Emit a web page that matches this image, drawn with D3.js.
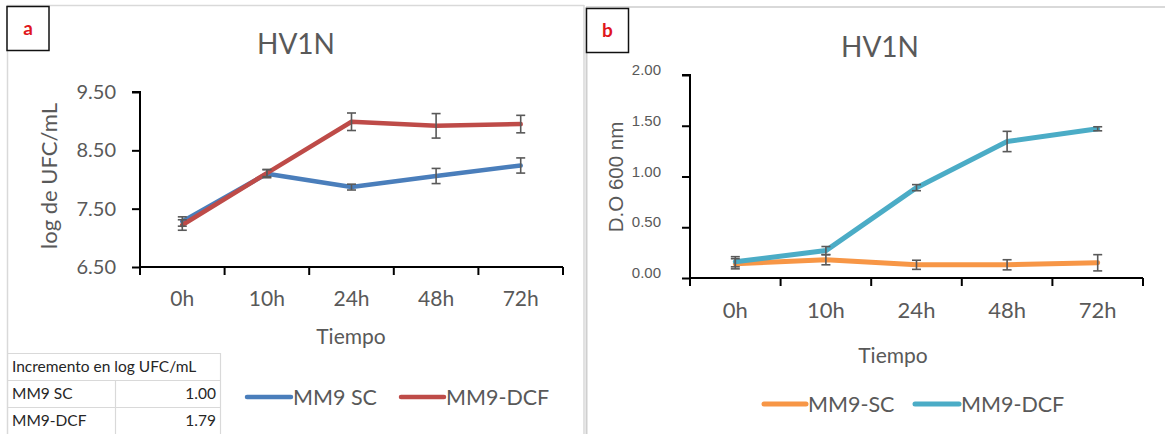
<!DOCTYPE html>
<html><head><meta charset="utf-8">
<script src="https://cdn.jsdelivr.net/npm/d3@7"></script>
<style>body{margin:0;background:#fff}svg{display:block}</style>
</head><body>
<svg id="c" width="1165" height="434"></svg>
<script>
const categories = ["0h","10h","24h","48h","72h"];
// Panel a: log UFC/mL
const aSC  = [7.28, 8.10, 7.87, 8.06, 8.24];
const aSCerr = [0.08, 0.07, 0.05, 0.13, 0.13];
const aDCF = [7.22, 8.11, 8.99, 8.92, 8.95];
const aDCFerr = [0.09, 0.06, 0.15, 0.21, 0.15];
const aTicks = [6.5, 7.5, 8.5, 9.5];
// Panel b: D.O 600 nm
const bSC  = [0.14, 0.18, 0.13, 0.13, 0.15];
const bSCerr = [0.05, 0.05, 0.045, 0.05, 0.08];
const bDCF = [0.16, 0.27, 0.89, 1.345, 1.47];
const bDCFerr = [0.05, 0.04, 0.03, 0.10, 0.02];
const bTicks = [0, 0.5, 1.0, 1.5, 2.0];
// Table
const tableHeader = "Incremento en log UFC/mL";
const tableNames = ["MM9 SC","MM9-DCF"];
const tableValues = [1.00, 1.79];

const svg = d3.select("#c");
const GRAY = "#595959";
const BORDER = "#d9d9d9";

// panel borders
svg.append("line").attr("x1",7).attr("x2",584).attr("y1",5.5).attr("y2",5.5).attr("stroke",BORDER).attr("stroke-width",1.5);
svg.append("line").attr("x1",7.5).attr("x2",7.5).attr("y1",5).attr("y2",434).attr("stroke",BORDER).attr("stroke-width",1.5);
svg.append("line").attr("x1",584).attr("x2",584).attr("y1",5).attr("y2",434).attr("stroke",BORDER).attr("stroke-width",1.5);
svg.append("line").attr("x1",586).attr("x2",1165).attr("y1",7).attr("y2",7).attr("stroke",BORDER).attr("stroke-width",2);
svg.append("line").attr("x1",586.5).attr("x2",586.5).attr("y1",7).attr("y2",434).attr("stroke","#cfcfcf").attr("stroke-width",2);

function labelBox(x,y,t){
  svg.append("rect").attr("x",x).attr("y",y).attr("width",42).attr("height",44)
    .attr("fill","#fff").attr("stroke","#111").attr("stroke-width",1.5);
  svg.append("text").attr("x",x+21).attr("y",y+28).attr("text-anchor","middle")
    .attr("font-family","Lato, sans-serif").attr("font-weight","bold").attr("font-size",19)
    .attr("fill","#e0161d").text(t);
}
labelBox(7,6.5,"a");
labelBox(586.5,8.5,"b");

function panel(o){
  const g = svg.append("g");
  const x = d3.scaleBand().domain(categories).range([o.x0,o.x1]);
  const y = d3.scaleLinear().domain(o.ydom).range([o.y0,o.y1]);
  // title
  g.append("text").attr("x",o.titleX).attr("y",o.titleY).attr("text-anchor","middle")
    .attr("font-family","Lato, sans-serif").attr("font-size",o.titleSize).attr("fill",GRAY).text("HV1N");
  // y axis
  const ya = g.append("g").attr("transform",`translate(${o.x0},0)`)
    .call(d3.axisLeft(y).tickValues(o.yticks).tickSize(8).tickPadding(o.ytickPad).tickFormat(d3.format(".2f")));
  ya.select(".domain").attr("stroke","#000").attr("stroke-width",2).attr("d",`M-8,${o.y1}H0V${o.y0}`);
  ya.selectAll(".tick line").attr("stroke","#000").attr("stroke-width",2);
  ya.selectAll(".tick text").attr("font-family",o.ytickFont).attr("font-size",o.ytickSize).attr("fill",GRAY).attr("dy",o.ytickDy);
  // x axis
  const xa = g.append("g").attr("transform",`translate(0,${o.y0})`)
    .call(d3.axisBottom(x).tickSize(0).tickPadding(o.xtickPad));
  xa.select(".domain").attr("stroke","#000").attr("stroke-width",2).attr("d",`M${o.x0},0H${o.x1}`);
  xa.selectAll(".tick text").attr("font-family","Lato, sans-serif").attr("font-size",o.xtickSize).attr("fill",GRAY);
  // boundary ticks
  const bounds = categories.map(c=>x(c)).concat([x(categories[categories.length-1])+x.bandwidth()]);
  xa.selectAll("line.bt").data(bounds).join("line").attr("class","bt")
    .attr("x1",d=>d).attr("x2",d=>d).attr("y1",0).attr("y2",8).attr("stroke","#000").attr("stroke-width",2);
  // axis titles
  g.append("text").attr("x",o.xlabX).attr("y",o.xlabY).attr("text-anchor","middle")
    .attr("font-family","Lato, sans-serif").attr("font-size",o.xlabSize).attr("fill",GRAY).text("Tiempo");
  g.append("text").attr("transform",`translate(${o.ylabX},${o.ylabY}) rotate(-90)`).attr("text-anchor","middle")
    .attr("font-family",o.ylabFont).attr("font-size",o.ylabSize).attr("fill",GRAY).text(o.ylab);
  // series
  const cx = c => x(c)+x.bandwidth()/2;
  o.series.forEach(s=>{
    const line = d3.line().x((d,i)=>cx(categories[i])).y(d=>y(d));
    g.append("path").datum(s.values).attr("d",line).attr("fill","none")
      .attr("stroke",s.color).attr("stroke-width",o.lw).attr("stroke-linejoin","round").attr("stroke-linecap","round");
  });
  o.series.forEach(s=>{
    const eg = g.append("g").attr("stroke",GRAY).attr("stroke-width",1.6);
    s.values.forEach((v,i)=>{
      const xc = cx(categories[i]), e = s.err[i];
      eg.append("line").attr("x1",xc).attr("x2",xc).attr("y1",y(v-e)).attr("y2",y(v+e));
      eg.append("line").attr("x1",xc-4.5).attr("x2",xc+4.5).attr("y1",y(v-e)).attr("y2",y(v-e));
      eg.append("line").attr("x1",xc-4.5).attr("x2",xc+4.5).attr("y1",y(v+e)).attr("y2",y(v+e));
    });
  });
  // legend
  o.series.forEach((s,i)=>{
    const L = o.legend[i];
    g.append("line").attr("x1",L[0]).attr("x2",L[1]).attr("y1",o.legY).attr("y2",o.legY)
      .attr("stroke",s.color).attr("stroke-width",o.lw).attr("stroke-linecap","round");
    g.append("text").attr("x",L[1]+2).attr("y",o.legY).attr("dy","0.35em")
      .attr("font-family","Lato, sans-serif").attr("font-size",o.legSize).attr("fill",GRAY).text(s.name);
  });
}

panel({
  x0:140, x1:563, y0:267, y1:92, ydom:[6.5,9.5], yticks:aTicks,
  titleX:296, titleY:54, titleSize:28,
  ytickPad:16, ytickFont:"Lato, sans-serif", ytickSize:20, ytickDy:"0.32em",
  xtickPad:24, xtickSize:21,
  xlabX:351, xlabY:344, xlabSize:21,
  ylabX:57, ylabY:176, ylabFont:"Lato, sans-serif", ylabSize:22, ylab:"log de UFC/mL",
  lw:4.5,
  series:[
    {name:"MM9 SC", values:aSC, err:aSCerr, color:"#4a7ebb"},
    {name:"MM9-DCF", values:aDCF, err:aDCFerr, color:"#be4b48"}
  ],
  legend:[[247,291],[401,444]], legY:397, legSize:21.5
});

panel({
  x0:690, x1:1143, y0:278, y1:75, ydom:[0,2], yticks:bTicks,
  titleX:880, titleY:57, titleSize:28,
  ytickPad:21, ytickFont:"'Liberation Sans', Arial, sans-serif", ytickSize:15, ytickDy:"-0.02em",
  xtickPad:24, xtickSize:22,
  xlabX:893, xlabY:363, xlabSize:21,
  ylabX:623, ylabY:177, ylabFont:"'Liberation Sans', Arial, sans-serif", ylabSize:20.5, ylab:"D.O 600 nm",
  lw:5,
  series:[
    {name:"MM9-SC", values:bSC, err:bSCerr, color:"#f79646"},
    {name:"MM9-DCF", values:bDCF, err:bDCFerr, color:"#4bacc6"}
  ],
  legend:[[764,806],[915,959]], legY:404, legSize:21.5
});

// table
const tg = svg.append("g");
const rowsY = [353, 380, 407, 434];
rowsY.forEach(yv=>tg.append("line").attr("x1",7).attr("x2",220).attr("y1",yv+0.5).attr("y2",yv+0.5).attr("stroke",BORDER).attr("stroke-width",1.2));
tg.append("line").attr("x1",220.5).attr("x2",220.5).attr("y1",353).attr("y2",434).attr("stroke",BORDER).attr("stroke-width",1.2);
tg.append("line").attr("x1",115.5).attr("x2",115.5).attr("y1",380).attr("y2",434).attr("stroke",BORDER).attr("stroke-width",1.2);
tg.append("text").attr("x",12).attr("y",372).attr("font-family","Lato, sans-serif").attr("font-size",15.5).attr("fill","#262626").text(tableHeader);
tableNames.forEach((n,i)=>{
  tg.append("text").attr("x",12).attr("y",399+i*27).attr("font-family","Lato, sans-serif").attr("font-size",15.5).attr("fill","#262626").text(n);
  tg.append("text").attr("x",216).attr("y",399+i*27).attr("text-anchor","end").attr("font-family","Lato, sans-serif").attr("font-size",15.5).attr("fill","#262626").text(tableValues[i].toFixed(2));
});
</script>
</body></html>
